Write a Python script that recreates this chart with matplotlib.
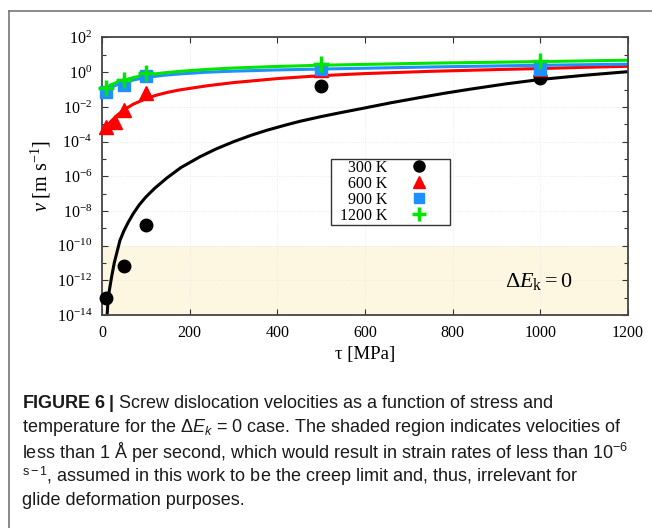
import numpy as np
import matplotlib.pyplot as plt
from matplotlib.lines import Line2D

OUT_FILE = "out.png"

plt.rcParams["mathtext.fontset"] = "custom"
plt.rcParams["mathtext.rm"] = "Liberation Serif"
plt.rcParams["mathtext.it"] = "Liberation Serif:italic"
plt.rcParams["mathtext.sf"] = "Liberation Sans:italic"
plt.rcParams["mathtext.bf"] = "Liberation Sans:bold"
plt.rcParams["font.family"] = "Liberation Serif"

# measured points (tau in MPa, v in m/s)
tau_300 = [10, 50, 100, 500, 1000]
v_300 = [9e-14, 6.6e-12, 1.6e-9, 0.17, 0.47]

tau_600 = [10, 30, 50, 100, 500, 1000]
v_600 = [7e-4, 1.4e-3, 6.7e-3, 0.066, 1.3, 1.5]

tau_900 = [10, 50, 100, 500, 1000]
v_900 = [0.075, 0.18, 0.59, 1.45, 1.5]

tau_1200 = [10, 50, 100, 500, 1000]
v_1200 = [0.12, 0.35, 0.9, 2.9, 4.7]

# model curves, log10(v)
fit_tau_300 = [12, 14, 17, 22, 28, 34, 41, 50, 60, 71.5, 85, 100, 120, 148, 180, 224, 260, 300,
               340, 376, 420, 452, 500, 543, 600, 660, 726, 780, 840, 920, 1000, 1100, 1200]
fit_logv_300 = [-13.9, -13.1, -12.55, -11.8, -11.0, -10.4, -9.7, -9.15, -8.65, -8.15, -7.65, -7.2,
                -6.7, -6.1, -5.5, -4.87, -4.43, -4.01, -3.64, -3.35, -3.04, -2.83, -2.56,
                -2.34, -2.06, -1.76, -1.46, -1.22, -0.98, -0.68, -0.42, -0.18, 0.03]

fit_tau_600 = [5, 10, 20, 33, 50, 71, 100, 125, 150, 178, 241, 300, 400, 500, 600, 750, 900,
               1000, 1100, 1200]
fit_logv_600 = [-3.35, -3.15, -2.85, -2.52, -2.17, -1.85, -1.53, -1.32, -1.16, -1.02, -0.78, -0.6,
                -0.37, -0.2, -0.08, 0.05, 0.15, 0.21, 0.28, 0.34]

fit_tau_900 = [5, 10, 20, 35, 50, 75, 100, 140, 178, 240, 300, 400, 500, 750, 1000, 1200]
fit_logv_900 = [-1.1, -1.02, -0.87, -0.72, -0.6, -0.43, -0.31, -0.18, -0.1, 0.0, 0.06, 0.13,
                0.18, 0.3, 0.4, 0.46]

fit_tau_1200 = [5, 10, 20, 35, 50, 75, 100, 140, 178, 240, 300, 400, 500, 750, 1000, 1200]
fit_logv_1200 = [-0.97, -0.88, -0.73, -0.58, -0.46, -0.29, -0.17, -0.04, 0.05, 0.16, 0.24, 0.33,
                 0.4, 0.52, 0.61, 0.69]

CREEP_LIMIT = 1e-10

C_BLACK = "black"
C_RED = "#ff0000"
C_BLUE = "#1e90ff"
C_GREEN = "#00e600"

caption = [
    r"$\mathbf{FIGURE\ 6\ |}$ Screw dislocation velocities as a function of stress and",
    r"temperature for the Δ$\mathsf{E_k}$ = 0 case. The shaded region indicates velocities of",
    r"less than 1 Å per second, which would result in strain rates of less than 10$^{\mathregular{-6}}$",
    r"$^{\mathregular{s-1}}$, assumed in this work to be the creep limit and, thus, irrelevant for",
    r"glide deformation purposes.",
]


def main():
    fig = plt.figure(figsize=(6.52, 5.28), dpi=100)
    ax = fig.add_axes([0.1564, 0.4034, 0.8068, 0.5256])

    ax.set_yscale("log")
    ax.set_xlim(0, 1200)
    ax.set_ylim(1e-14, 1e2)

    ax.axhspan(1e-14, CREEP_LIMIT, color="#fdf6e1", zorder=0, lw=0)

    ax.plot(fit_tau_300, 10 ** np.array(fit_logv_300), color=C_BLACK, lw=2.2, zorder=2)
    ax.plot(fit_tau_600, 10 ** np.array(fit_logv_600), color=C_RED, lw=2.2, zorder=2)
    ax.plot(fit_tau_900, 10 ** np.array(fit_logv_900), color=C_BLUE, lw=2.2, zorder=2)
    ax.plot(fit_tau_1200, 10 ** np.array(fit_logv_1200), color=C_GREEN, lw=2.2, zorder=2)

    ax.plot(tau_300, v_300, "o", color=C_BLACK, ms=9, zorder=3, clip_on=False)
    ax.plot(tau_600, v_600, "^", color=C_RED, ms=10, zorder=4, clip_on=False)
    ax.plot(tau_900, v_900, "s", color=C_BLUE, ms=8.5, zorder=5, clip_on=False)
    ax.plot(tau_1200, v_1200, "+", color=C_GREEN, ms=11, mew=2.5, zorder=6, clip_on=False)

    handles = [
        Line2D([], [], ls="none", marker="o", color=C_BLACK, ms=8),
        Line2D([], [], ls="none", marker="^", color=C_RED, ms=9),
        Line2D([], [], ls="none", marker="s", color=C_BLUE, ms=7.5),
        Line2D([], [], ls="none", marker="+", color=C_GREEN, ms=10, mew=2.5),
    ]
    labels = ["  300 K", "  600 K", "  900 K", "  1200 K"]
    leg = ax.legend(handles, labels,
                    loc="upper left", bbox_to_anchor=(0.435, 0.562),
                    markerfirst=False, frameon=True, fancybox=False,
                    edgecolor="#333333", framealpha=1, fontsize=11.5,
                    handlelength=3.75, handletextpad=0.12, labelspacing=0.0,
                    borderpad=0.06, borderaxespad=0)
    leg.get_frame().set_linewidth(1.0)
    leg.set_zorder(10)

    major = [10.0 ** k for k in range(-14, 3, 2)]
    minor = [10.0 ** k for k in range(-13, 2, 2)]
    ax.set_yticks(major)
    ax.set_yticklabels([r"$10^{%d}$" % k for k in range(-14, 3, 2)])
    ax.set_yticks(minor, minor=True)
    ax.set_yticklabels([], minor=True)
    ax.set_xticks(range(0, 1201, 200))

    ax.tick_params(which="both", direction="in", top=True, right=True,
                   labelsize=11.5, colors="#333333", labelcolor="black")
    ax.tick_params(which="major", length=4, width=0.8, pad=7)
    ax.tick_params(which="minor", length=3, width=0.8)
    ax.grid(True, which="major", color="#e6e6e6", lw=0.6, ls=":")

    for sp in ax.spines.values():
        sp.set_linewidth(1.3)
        sp.set_color("#444444")

    ax.set_xlabel(r"τ [MPa]", fontsize=13.5, labelpad=4)
    ax.set_ylabel(r"$v$ [m s$^{-1}$]", fontsize=14.5, labelpad=3)

    ax.text(0.895, 0.12, r"$\Delta E_{\mathrm{k}} = 0$", transform=ax.transAxes,
            fontsize=16, ha="right", va="center")

    # screenshot frame
    fig.add_artist(Line2D([9 / 652, 9 / 652], [0, 1 - 11 / 528], color="#777777", lw=1.2))
    fig.add_artist(Line2D([9 / 652, 1], [1 - 11 / 528, 1 - 11 / 528], color="#777777", lw=1.2))

    y0 = 403
    for i, line in enumerate(caption):
        fig.text(22 / 652, 1 - (y0 + 24.3 * i) / 528, line, family="Liberation Sans",
                 fontsize=13.0, ha="left", va="center", color="#1a1a1a")

    plt.savefig(OUT_FILE, dpi=100)


if __name__ == "__main__":
    main()
